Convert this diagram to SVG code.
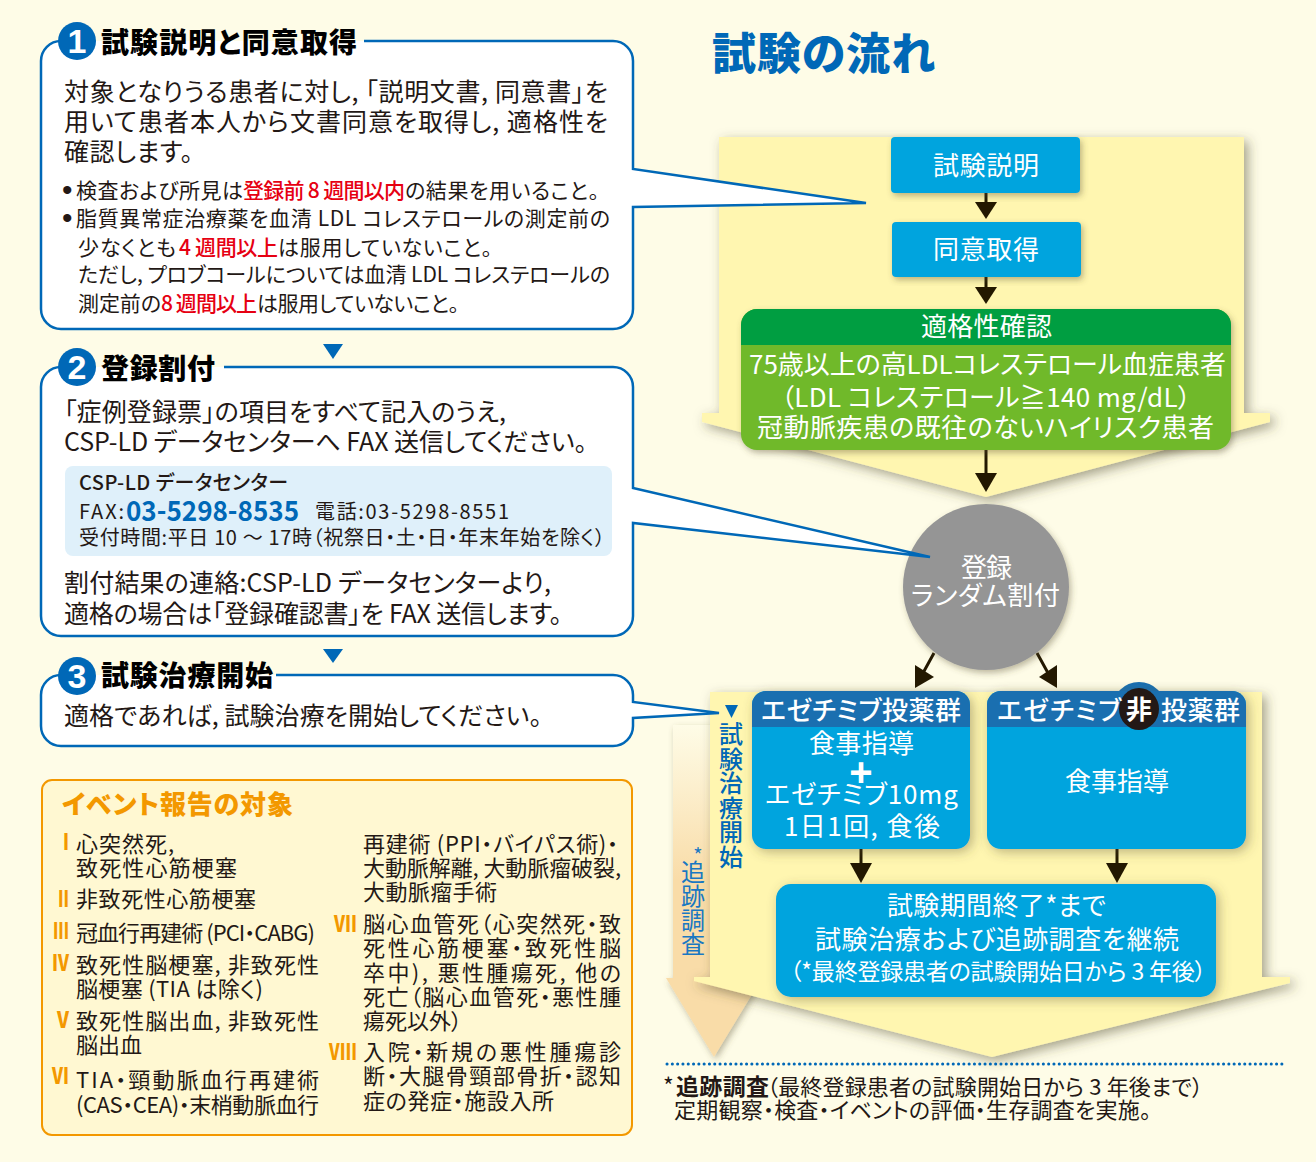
<svg xmlns="http://www.w3.org/2000/svg" width="1316" height="1162" viewBox="0 0 1316 1162">
<defs>
<style>
text{font-family:"Noto Sans CJK JP","Noto Sans",sans-serif;fill:#231815;font-feature-settings:"palt";}
.box{fill:#fff;stroke:#0068b7;stroke-width:2.5;stroke-linejoin:miter}
.h{font-size:28px;font-weight:900;fill:#000}
.num{font-size:34px;font-weight:700;fill:#fff;text-anchor:middle;font-family:"Liberation Sans",sans-serif}
.b{font-size:25px}
.s{font-size:21px}
.bu{font-size:30px;font-family:"Liberation Sans",sans-serif}
.r{font-size:21px;fill:#e60012;font-weight:500}
.p{font-size:20px}
.e{font-size:22px}
.rn{font-size:22px;font-weight:900;fill:#f39800}
.w{font-size:26px;fill:#fff}
.bl{fill:#00a4de}
.v{writing-mode:vertical-rl;font-size:24px;font-weight:500;fill:#0068b7;font-feature-settings:normal}
.ar{fill:#231800}
.arl{stroke:#231800;stroke-width:3;fill:none}
</style>
<filter id="sh" x="-10%" y="-10%" width="125%" height="125%"><feDropShadow dx="4" dy="4" stdDeviation="6" flood-color="#4a4428" flood-opacity=".5"/></filter>
<filter id="ss" x="-10%" y="-10%" width="125%" height="125%"><feDropShadow dx="2" dy="3" stdDeviation="3" flood-color="#5a5030" flood-opacity=".4"/></filter>
<filter id="sb" x="-15%" y="-15%" width="130%" height="130%"><feDropShadow dx="3" dy="3" stdDeviation="6" flood-color="#5a5030" flood-opacity=".4"/></filter>
<linearGradient id="og" gradientUnits="userSpaceOnUse" x1="0" y1="725" x2="0" y2="880"><stop offset="0" stop-color="#fefce7"/><stop offset="1" stop-color="#f9dca8"/></linearGradient>
<clipPath id="hl"><rect x="752" y="691" width="218" height="36"/></clipPath>
<clipPath id="hr"><rect x="987" y="691" width="259" height="36"/></clipPath>
<clipPath id="gh"><rect x="741" y="309" width="490" height="36"/></clipPath>
</defs>
<rect width="1316" height="1162" fill="#fefce7"/>
<g id="band-followup"><polygon points="673,725 752,725 752,978 762,978 714,1057 666,978 673,978" fill="url(#og)" filter="url(#ss)"/></g>
<g id="band-upper"><polygon points="719,137 1244,137 1244,413 1270,413 1270,422 986,497 702,422 702,413 719,413" fill="#fff6b0" filter="url(#sh)"/></g>
<g id="band-lower"><polygon points="710,692 1262,692 1262,977 1290,977 1290,983 992,1057 694,981 694,977 710,977" fill="#fff6b0" filter="url(#sh)"/></g>

<text id="title" x="712" y="70" textLength="223" font-size="44" font-weight="900" style="fill:#0068b7">試験の流れ</text>

<g id="connectors">
<path class="arl" d="M986 193V203M986 277V288M986 450V474M861 849V864M1117 849V864M934 653L923 673M1037 653L1048 673"/>
<polygon class="ar" points="975,202 997,202 986,219"/>
<polygon class="ar" points="975,287 997,287 986,304"/>
<polygon class="ar" points="975,473 997,473 986,492"/>
<polygon class="ar" points="850,863 872,863 861,883"/>
<polygon class="ar" points="1106,863 1128,863 1117,883"/>
<polygon class="ar" points="915,665 934,677 915,688"/>
<polygon class="ar" points="1057,665 1039,677 1057,688"/>
</g>

<g id="n-explain"><rect x="891" y="137" width="189" height="56" rx="4" class="bl" filter="url(#ss)"/><text class="w" x="933" y="175" textLength="106">試験説明</text></g>
<g id="n-consent"><rect x="892" y="222" width="189" height="55" rx="4" class="bl" filter="url(#ss)"/><text class="w" x="933" y="259" textLength="106">同意取得</text></g>
<g id="n-eligibility">
<rect x="741" y="309" width="490" height="141" rx="16" fill="#6fb92c" filter="url(#ss)"/>
<rect x="741" y="309" width="490" height="60" rx="16" fill="#009e41" clip-path="url(#gh)"/>
<text class="w" x="921" y="336" textLength="131">適格性確認</text>
<text class="w" x="749" y="374" textLength="477">75歳以上の高LDLコレステロール血症患者</text>
<text class="w" x="781" y="407" textLength="410">（LDL コレステロール≧140 mg/dL）</text>
<text class="w" x="757" y="437" textLength="457">冠動脈疾患の既往のないハイリスク患者</text>
</g>
<g id="n-random"><circle cx="986" cy="587" r="83" fill="#959595" filter="url(#ss)"/>
<text class="w" x="961" y="577" textLength="51">登録</text><text class="w" x="911" y="605" textLength="149">ランダム割付</text></g>
<g id="n-arm-a">
<rect x="752" y="691" width="218" height="158" rx="14" class="bl" filter="url(#sb)"/>
<rect x="752" y="691" width="218" height="60" rx="14" fill="#1a6fb0" clip-path="url(#hl)"/>
<text class="w" x="761" y="720" textLength="200" font-weight="500">エゼチミブ投薬群</text>
<text class="w" x="809" y="753" textLength="105">食事指導</text>
<text x="861" y="786" font-size="40" font-weight="700" text-anchor="middle" style="fill:#fff;font-family:'Liberation Sans',sans-serif">+</text>
<text class="w" x="765" y="804" textLength="193">エゼチミブ10mg</text>
<text class="w" x="784" y="836" textLength="156">1日1回, 食後</text>
</g>
<g id="n-arm-b">
<circle cx="1139" cy="709" r="27" fill="#1a6fb0"/>
<rect x="987" y="691" width="259" height="158" rx="14" class="bl" filter="url(#sb)"/>
<rect x="987" y="691" width="259" height="60" rx="14" fill="#1a6fb0" clip-path="url(#hr)"/>
<ellipse cx="1139" cy="709" rx="20" ry="21" fill="#231815"/>
<text class="w" x="997" y="720" textLength="124" font-weight="500">エゼチミブ</text>
<text class="w" x="1139" y="719" text-anchor="middle" font-weight="700">非</text>
<text class="w" x="1161" y="720" textLength="79" font-weight="500">投薬群</text>
<text class="w" x="1065" y="791" textLength="104">食事指導</text>
</g>
<g id="n-continue">
<rect x="776" y="884" width="440" height="113" rx="15" class="bl" filter="url(#sb)"/>
<text class="w" x="887" y="915" textLength="219">試験期間終了*まで</text>
<text class="w" x="815" y="949" textLength="364">試験治療および追跡調査を継続</text>
<text class="w" x="790" y="980" textLength="416" style="font-size:23px">（*最終登録患者の試験開始日から 3 年後）</text>
</g>
<g id="label-treatment"><polygon points="725,705 738,705 731.5,718" fill="#0068b7"/>
<text class="v" x="731" y="722" letter-spacing="0.5">試験治療開始</text></g>
<g id="label-followup">
<text x="698" y="863" font-size="20" text-anchor="middle" style="fill:#1a78c2">*</text>
<text class="v" x="693" y="860" style="font-weight:400;fill:#1a78c2">追跡調査</text></g>

<g id="step1">
<path class="box" d="M364 41H613A20 20 0 0 1 633 61V169L866 203L633 207V309A20 20 0 0 1 613 329H61A20 20 0 0 1 41 309V61A20 20 0 0 1 61 41H70"/>
<circle cx="77" cy="41" r="19" fill="#0068b7"/><text class="num" x="77" y="53">1</text>
<text class="h" x="101" y="53" textLength="256">試験説明と同意取得</text>
<text class="b" x="64" y="101" textLength="544">対象となりうる患者に対し, 「説明文書, 同意書」を</text>
<text class="b" x="64" y="131" textLength="544">用いて患者本人から文書同意を取得し, 適格性を</text>
<text class="b" x="64" y="161" textLength="129">確認します。</text>
<text class="bu" x="62" y="200">•</text>
<text class="s" x="76" y="198" textLength="167">検査および所見は</text>
<text class="r" x="243" y="198" textLength="162">登録前 8 週間以内</text>
<text class="s" x="405" y="198" textLength="194">の結果を用いること。</text>
<text class="bu" x="62" y="228">•</text>
<text class="s" x="76" y="226" textLength="534">脂質異常症治療薬を血清 LDL コレステロールの測定前の</text>
<text class="s" x="78" y="255" textLength="98">少なくとも</text>
<text class="r" x="179" y="255" textLength="99">4 週間以上</text>
<text class="s" x="278" y="255" textLength="214">は服用していないこと。</text>
<text class="s" x="78" y="282" textLength="532">ただし, プロブコールについては血清 LDL コレステロールの</text>
<text class="s" x="78" y="311" textLength="83">測定前の</text>
<text class="r" x="161" y="311" textLength="96">8 週間以上</text>
<text class="s" x="257" y="311" textLength="202">は服用していないこと。</text>
</g>
<g id="step2">
<path class="box" d="M224 367H613A20 20 0 0 1 633 387V488L930 557L633 523V616A20 20 0 0 1 613 636H61A20 20 0 0 1 41 616V387A20 20 0 0 1 61 367H70"/>
<circle cx="77" cy="367" r="19" fill="#0068b7"/><text class="num" x="77" y="379">2</text>
<text class="h" x="101" y="379" textLength="114">登録割付</text>
<text class="b" x="64" y="421" textLength="442">「症例登録票」の項目をすべて記入のうえ,</text>
<text class="b" x="64" y="451" textLength="523">CSP-LD データセンターへ FAX 送信してください。</text>
<rect x="65" y="466" width="547" height="90" rx="8" fill="#dff0fa"/>
<text class="p" x="79" y="490" textLength="209" font-weight="500">CSP-LD データセンター</text>
<text class="p" x="79" y="519" textLength="45">FAX:</text>
<text x="126" y="521" textLength="173" lengthAdjust="spacingAndGlyphs" font-size="28" font-weight="700" style="fill:#0068b7">03-5298-8535</text>
<text class="p" x="315" y="519" textLength="194">電話:03-5298-8551</text>
<text class="p" x="79" y="545" textLength="526">受付時間:平日 10 ～ 17時（祝祭日・土・日・年末年始を除く）</text>
<text class="b" x="64" y="592" textLength="487">割付結果の連絡:CSP-LD データセンターより,</text>
<text class="b" x="64" y="623" textLength="498">適格の場合は「登録確認書」を FAX 送信します。</text>
</g>
<g id="step3">
<path class="box" d="M276 675H613A20 20 0 0 1 633 695V702L719 713L633 718V726A20 20 0 0 1 613 746H61A20 20 0 0 1 41 726V695A20 20 0 0 1 61 675H70"/>
<circle cx="77" cy="676" r="19" fill="#0068b7"/><text class="num" x="77" y="688">3</text>
<text class="h" x="101" y="686" textLength="172">試験治療開始</text>
<text class="b" x="64" y="725" textLength="478">適格であれば, 試験治療を開始してください。</text>
</g>
<g id="step-markers" fill="#0068b7"><polygon points="323,344 343,344 333,359"/><polygon points="323,649 343,649 333,663"/></g>

<g id="events">
<rect x="42" y="780" width="590" height="355" rx="10" fill="#fff8d2" stroke="#f39800" stroke-width="2"/>
<text x="62" y="814" textLength="231" font-size="26" font-weight="900" style="fill:#f39800">イベント報告の対象</text>
<text class="rn" x="63" y="850" textLength="6" lengthAdjust="spacingAndGlyphs">I</text>
<text class="rn" x="58" y="907" textLength="11" lengthAdjust="spacingAndGlyphs">II</text>
<text class="rn" x="53" y="939" textLength="16" lengthAdjust="spacingAndGlyphs">III</text>
<text class="rn" x="52" y="971" textLength="17" lengthAdjust="spacingAndGlyphs">IV</text>
<text class="rn" x="57" y="1028" textLength="12" lengthAdjust="spacingAndGlyphs">V</text>
<text class="rn" x="52" y="1084" textLength="17" lengthAdjust="spacingAndGlyphs">VI</text>
<text class="rn" x="334" y="932" textLength="23" lengthAdjust="spacingAndGlyphs">VII</text>
<text class="rn" x="329" y="1060" textLength="28" lengthAdjust="spacingAndGlyphs">VIII</text>
<text class="e" x="76" y="852" textLength="98">心突然死,</text>
<text class="e" x="76" y="876" textLength="161">致死性心筋梗塞</text>
<text class="e" x="76" y="907" textLength="180">非致死性心筋梗塞</text>
<text class="e" x="76" y="941" textLength="239">冠血行再建術 (PCI・CABG)</text>
<text class="e" x="76" y="973" textLength="243">致死性脳梗塞, 非致死性</text>
<text class="e" x="76" y="997" textLength="187">脳梗塞 (TIA は除く)</text>
<text class="e" x="76" y="1029" textLength="243">致死性脳出血, 非致死性</text>
<text class="e" x="76" y="1053" textLength="66">脳出血</text>
<text class="e" x="76" y="1088" textLength="243">TIA・頸動脈血行再建術</text>
<text class="e" x="76" y="1113" textLength="243">(CAS・CEA)・末梢動脈血行</text>
<text class="e" x="363" y="852" textLength="255">再建術 (PPI・バイパス術)・</text>
<text class="e" x="363" y="876" textLength="258">大動脈解離, 大動脈瘤破裂,</text>
<text class="e" x="363" y="900" textLength="134">大動脈瘤手術</text>
<text class="e" x="363" y="932" textLength="258">脳心血管死（心突然死・致</text>
<text class="e" x="363" y="956" textLength="258">死性心筋梗塞・致死性脳</text>
<text class="e" x="363" y="981" textLength="258">卒中), 悪性腫瘍死, 他の</text>
<text class="e" x="363" y="1005" textLength="258">死亡（脳心血管死・悪性腫</text>
<text class="e" x="363" y="1029" textLength="99">瘍死以外）</text>
<text class="e" x="363" y="1060" textLength="258">入院・新規の悪性腫瘍診</text>
<text class="e" x="363" y="1084" textLength="258">断・大腿骨頸部骨折・認知</text>
<text class="e" x="363" y="1109" textLength="191">症の発症・施設入所</text>
</g>

<g id="footnote">
<line x1="667" y1="1064" x2="1282" y2="1064" stroke="#0068b7" stroke-width="3" stroke-linecap="round" stroke-dasharray="0.1 5.2"/>
<text x="663" y="1095" font-size="23">*</text>
<text x="676" y="1095" textLength="93" font-size="23" font-weight="700">追跡調査</text>
<text x="767" y="1095" textLength="436" font-size="22">（最終登録患者の試験開始日から 3 年後まで）</text>
<text x="674" y="1118" textLength="477" font-size="22">定期観察・検査・イベントの評価・生存調査を実施。</text>
</g>
</svg>
